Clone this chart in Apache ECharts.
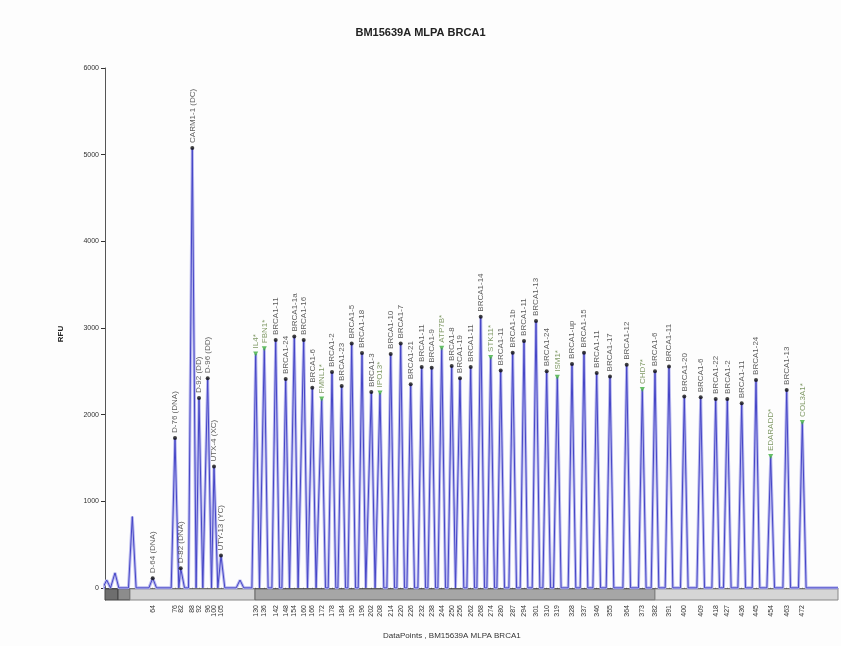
<!DOCTYPE html>
<html>
<head>
<meta charset="utf-8">
<title>BM15639A MLPA BRCA1</title>
<script src="https://cdn.jsdelivr.net/npm/echarts@6/dist/echarts.min.js"></script>
<style>
  html, body { margin: 0; padding: 0; background: #fdfdfd; }
  #chart { width: 841px; height: 646px; }
</style>
</head>
<body>
<div id="chart"></div>
<script>
// peaks with a call (position in data points, height in RFU)
const peakPos = [477, 700, 757, 873, 940, 1027, 1090, 1160,
  1507, 1593, 1707, 1807, 1893, 1987, 2073, 2167, 2270, 2367, 2467, 2570, 2663, 2750,
  2857, 2957, 3057, 3167, 3267, 3367, 3467, 3550, 3657, 3757, 3857, 3957, 4077, 4190,
  4310, 4417, 4523, 4670, 4790, 4917, 5050, 5217, 5373, 5500, 5640, 5793, 5957, 6107,
  6223, 6367, 6510, 6657, 6817, 6973]
const peakRFU = [112, 1730, 227, 5077, 2190, 2420, 1400, 373,
  2700, 2760, 2860, 2410, 2900, 2860, 2310, 2180, 2490, 2330, 2820, 2710, 2260, 2250,
  2700, 2820, 2350, 2550, 2540, 2766, 2560, 2420, 2550, 3130, 2660, 2510, 2715, 2850,
  3080, 2500, 2430, 2585, 2715, 2480, 2440, 2575, 2290, 2500, 2555, 2210, 2200, 2180,
  2180, 2130, 2400, 1515, 2285, 1910]
const peakName = ['D-64 (DNA)', 'D-76 (DNA)', 'D-82 (DNA)', 'CARM1-1 (DC)', 'D-92 (DD)', 'D-96 (DD)', 'UTX-4 (XC)', 'UTY-13 (YC)',
  'IL4*', 'FBN1*', 'BRCA1-11', 'BRCA1-24', 'BRCA1-1a', 'BRCA1-16', 'BRCA1-6', 'FMNL1*', 'BRCA1-2', 'BRCA1-23',
  'BRCA1-5', 'BRCA1-18', 'BRCA1-3', 'IPO13*', 'BRCA1-10', 'BRCA1-7', 'BRCA1-21', 'BRCA1-11', 'BRCA1-9', 'ATP7B*',
  'BRCA1-8', 'BRCA1-19', 'BRCA1-11', 'BRCA1-14', 'STK11*', 'BRCA1-11', 'BRCA1-1b', 'BRCA1-11', 'BRCA1-13',
  'BRCA1-24', 'ISM1*', 'BRCA1-up', 'BRCA1-15', 'BRCA1-11', 'BRCA1-17', 'BRCA1-12', 'CHD7*', 'BRCA1-6',
  'BRCA1-11', 'BRCA1-20', 'BRCA1-6', 'BRCA1-22', 'BRCA1-2', 'BRCA1-11', 'BRCA1-24', 'EDARADD*', 'BRCA1-13', 'COL3A1*']
// sizes (nt) shown under each called peak
const peakSize = [64, 76, 82, 88, 92, 96, 100, 105,
  130, 136, 142, 148, 154, 160, 166, 172, 178, 184, 190, 196, 202, 208,
  214, 220, 226, 232, 238, 244, 250, 256, 262, 268, 274, 280, 287, 294,
  301, 310, 319, 328, 337, 346, 355, 364, 373, 382, 391, 400, 409, 418,
  427, 436, 445, 454, 463, 472]
// uncalled peaks in the trace
const minorPos = [17, 100, 273, 1350]
const minorRFU = [90, 173, 823, 90]

const yTicks = [0, 1000, 2000, 3000, 4000, 5000, 6000]

const halfWidth = 38

// trace: one spike per peak
const allPeaks = peakPos.map((p, i) => [p, peakRFU[i]])
  .concat(minorPos.map((p, i) => [p, minorRFU[i]]))
  .sort((a, b) => a[0] - b[0])
const trace = [[0, 0]]
allPeaks.forEach(([p, h]) => {
  trace.push([p - halfWidth, 0], [p, h], [p + halfWidth, 0])
})
trace.push([7330, 0])

const refColor = '#3fae3f'
const markers = peakPos.map((p, i) => {
  const isRef = peakName[i].endsWith('*')
  return {
    name: peakName[i],
    value: [p, peakRFU[i]],
    symbol: isRef ? 'triangle' : 'circle',
    symbolRotate: isRef ? 180 : 0,
    symbolSize: isRef ? 5 : 4,
    itemStyle: { color: isRef ? refColor : '#111' },
    label: { color: isRef ? '#5f7f3f' : '#333' }
  }
})

const chart = echarts.init(document.getElementById('chart'))
chart.setOption({
  backgroundColor: '#fdfdfd',
  animation: false,
  title: [
    {
      text: 'BM15639A MLPA BRCA1',
      left: 'center',
      top: 22,
      textStyle: { fontFamily: 'Liberation Sans', fontSize: 11, fontWeight: 'bold', color: '#222' }
    },
    {
      text: 'DataPoints , BM15639A MLPA BRCA1',
      left: 378,
      top: 627,
      textStyle: { fontFamily: 'Liberation Sans', fontSize: 8, fontWeight: 'normal', color: '#333' }
    }
  ],
  grid: { left: 105, right: 3, top: 68, bottom: 46 },
  xAxis: {
    type: 'value',
    min: 0,
    max: 7330,
    splitLine: { show: false },
    axisLine: { lineStyle: { color: '#555' } },
    axisTick: { customValues: peakPos, length: 6, lineStyle: { color: '#333' } },
    axisLabel: {
      customValues: peakPos,
      rotate: 90,
      fontSize: 7,
      color: '#333',
      fontFamily: 'Liberation Sans',
      margin: 5,
      formatter (v) {
        const i = peakPos.indexOf(v)
        return i >= 0 ? String(peakSize[i]) : ''
      }
    }
  },
  yAxis: {
    type: 'value',
    min: -140,
    max: 6000,
    name: 'RFU',
    nameLocation: 'middle',
    nameGap: 40,
    nameTextStyle: { fontFamily: 'Liberation Sans', fontSize: 8, fontWeight: 'bold', color: '#222' },
    splitLine: { show: false },
    axisLine: { show: true, lineStyle: { color: '#555' } },
    axisTick: { show: true, customValues: yTicks, length: 4, lineStyle: { color: '#333' } },
    axisLabel: {
      customValues: yTicks,
      fontSize: 7,
      color: '#333',
      fontFamily: 'Liberation Sans',
      margin: 6,
      formatter: (v) => String(v)
    }
  },
  series: [
    {
      // soft halo under the trace
      type: 'line',
      data: trace,
      symbol: 'none',
      silent: true,
      lineStyle: { color: '#b9b9ef', width: 3 },
      z: 1,
      markArea: {
        silent: true,
        data: [
          [{ xAxis: 0, yAxis: -140, itemStyle: { color: '#6e6e6e', borderColor: '#444', borderWidth: 1 } }, { xAxis: 130, yAxis: -12 }],
          [{ xAxis: 130, yAxis: -140, itemStyle: { color: '#8c8c8c', borderColor: '#444', borderWidth: 1 } }, { xAxis: 250, yAxis: -12 }],
          [{ xAxis: 250, yAxis: -140, itemStyle: { color: '#d2d2d2', borderColor: '#888', borderWidth: 1 } }, { xAxis: 1500, yAxis: -12 }],
          [{ xAxis: 1500, yAxis: -140, itemStyle: { color: '#a6a6a6', borderColor: '#666', borderWidth: 1 } }, { xAxis: 5500, yAxis: -12 }],
          [{ xAxis: 5500, yAxis: -140, itemStyle: { color: '#d6d6d6', borderColor: '#888', borderWidth: 1 } }, { xAxis: 7330, yAxis: -12 }]
        ]
      }
    },
    {
      type: 'line',
      data: trace,
      symbol: 'none',
      silent: true,
      lineStyle: { color: '#4646c6', width: 1 },
      z: 2
    },
    {
      type: 'scatter',
      data: markers,
      z: 3,
      label: {
        show: true,
        formatter: '{b}',
        position: 'top',
        rotate: 90,
        align: 'left',
        verticalAlign: 'middle',
        distance: 3,
        fontSize: 8,
        fontFamily: 'Liberation Sans'
      }
    }
  ]
})
</script>
</body>
</html>
